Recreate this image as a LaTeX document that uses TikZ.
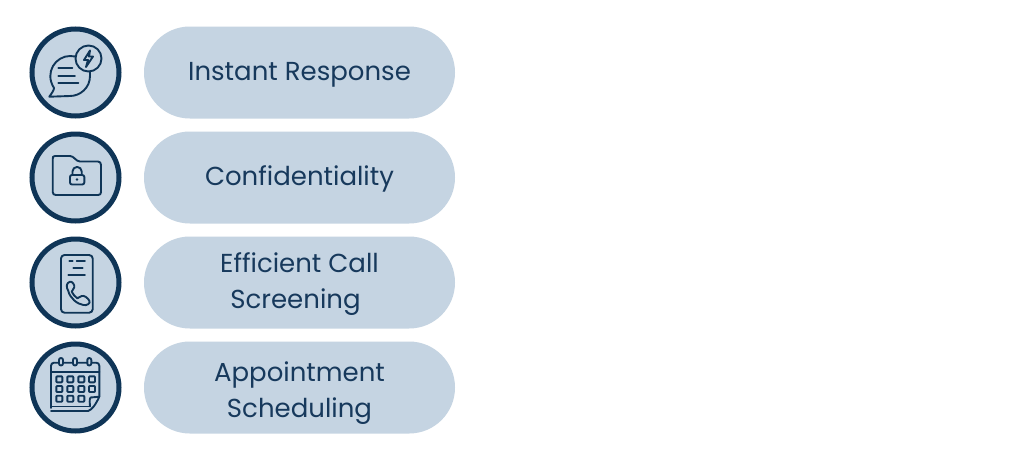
\documentclass[tikz,border=0pt]{standalone}
\usepackage{fontspec}
\setmainfont{Poppins}
\definecolor{paleblue}{HTML}{C5D4E2}
\definecolor{navy}{HTML}{0F3557}
\definecolor{textblue}{HTML}{17395C}
\tikzset{
	pill/.style={fill=paleblue,rounded corners=45.9*0.02cm,minimum width=311*0.02cm,minimum height=92*0.02cm,inner sep=0pt},
	pilltext/.style={text=textblue,align=center,inner sep=0pt,font=\fontsize{14.8pt}{20.4pt}\selectfont},
	ring/.style={circle,draw=navy,fill=paleblue,line width=5*0.02cm,minimum size=87*0.02cm,inner sep=0pt},
	icon/.style={draw=navy,line width=1.9*0.02cm,line cap=round,line join=round}
}
\begin{document}
\begin{tikzpicture}[x=0.02cm,y=-0.02cm]
	\useasboundingbox[fill=white] (0,0) rectangle (1024,460);
	\foreach \n/\y/\dy/\t in {instant/72.5/2.5/Instant Response,confid/177.5/1/Confidentiality,
		screen/282.5/1.5/Efficient Call\\Screening\hspace*{0.16cm},sched/387.5/5.5/Appointment\\Scheduling}{
		\node[ring] (ring\n) at (75.5,\y) {};
		\node[pill] (pill\n) at (299.5,\y) {};
		\node[pilltext] (text\n) at (299.5,\y+\dy) {\t};
	}
	% chat icon
	\draw[icon] (49.3,96.7) .. controls (52,93) and (54,90) .. (54,88)
		.. controls (44,72) and (56,56) .. (70,56)
		.. controls (84,56) and (91,66) .. (90,76)
		.. controls (90,88) and (80,96) .. (70,96) -- cycle;
	\draw[icon] (58.3,67.7) -- (72.3,67.7) (58.3,75.7) -- (75,75.7) (58.3,83.3) -- (78.3,83.3);
	\draw[icon,fill=paleblue] (88.5,58.5) circle (13);
	\draw[icon] (90,50.5) -- (84,60) -- (88,60) -- (86,67) -- (93,56.5) -- (89,56.5) -- cycle;
	% folder icon
	\draw[icon] (55,156) -- (70,156) .. controls (74,156) and (76,161.5) .. (80,161.5) -- (98,161.5)
		.. controls (100,161.5) and (101,163) .. (101,165) -- (101,192)
		.. controls (101,194) and (100,195) .. (98,195) -- (56,195)
		.. controls (54,195) and (52.7,194) .. (52.7,192) -- (52.7,159)
		.. controls (52.7,157) and (53,156) .. (55,156) -- cycle;
	\draw[icon,rounded corners=2*0.02cm] (70,175) rectangle (84.3,184.5);
	\draw[icon] (72.5,175) -- (72.5,171.5) arc (180:360:4.6) -- (81.7,175);
	\fill[navy] (77,179.5) circle (1.4);
	% phone icon
	\draw[icon,rounded corners=3.5*0.02cm] (61,255) rectangle (92.7,312.7);
	\draw[icon] (69.3,260.7) -- (72.7,260.7) (76.7,260.7) -- (85,260.7) (73.3,268.3) -- (82.7,268.3) (68.3,275) -- (85,275);
	\draw[icon] (70,281.7) .. controls (66,283) and (66,287) .. (68.3,291)
		.. controls (70,298) and (77,304) .. (83.3,305)
		.. controls (87,306) and (91,303) .. (89.3,300.7)
		.. controls (88,298) and (84,295) .. (81.7,296)
		-- (77.3,298.3) .. controls (75,297) and (73,294) .. (71.7,291.7)
		-- (74.3,287.3) .. controls (75,285) and (72,281) .. (70,281.7) -- cycle;
	% calendar icon
	\draw[icon,rounded corners=3*0.02cm] (51,408) -- (51,362.7) -- (99.3,362.7) -- (99.3,396.7);
	\draw[icon] (51,372) -- (99.3,372);
	\draw[icon] (51,406.5) -- (90,406.5) (51,411) -- (88,411);
	\draw[icon] (88,411) .. controls (92,410) and (96,404) .. (99.3,396.7)
		-- (90.5,397.5) .. controls (89,400) and (90,404) .. (90,406.5);
	\foreach \x in {61,75,89.3}
		\draw[icon,fill=paleblue,rounded corners=2*0.02cm] (\x-2,358) rectangle (\x+2,365.5);
	\foreach \x in {59.3,70.3,81.3,92}\foreach \y in {379.3,389}
		\draw[icon,rounded corners=0.8*0.02cm] (\x-3,\y-3) rectangle (\x+3,\y+3);
	\foreach \x in {59.3,70.3,81.3}
		\draw[icon,rounded corners=0.8*0.02cm] (\x-3,395.7) rectangle (\x+3,401.7);
\end{tikzpicture}
\end{document}
